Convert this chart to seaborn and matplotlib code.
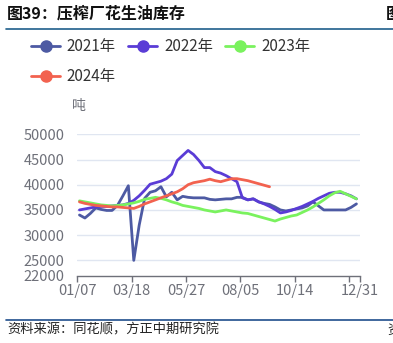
import numpy as np
import pandas as pd
import matplotlib
matplotlib.use("Agg")
import matplotlib.pyplot as plt
from matplotlib.lines import Line2D
import seaborn as sns

# ---------------- data ----------------
years = ["2021年", "2022年", "2023年", "2024年"]
colors = ["#4D5AA3", "#5A3CD6", "#7AF25E", "#F2624F"]

v2021 = [34000, 33400, 34300, 35400, 35100, 34900, 34900, 35900, 37800, 39800,
         25000, 32000, 37300, 38500, 38800, 39600, 37600, 38500, 37000, 37700,
         37500, 37400, 37400, 37400, 37100, 37000, 37100, 37200, 37200, 37500,
         37500, 37000, 37200, 36600, 36300, 36100, 35600, 35000, 34800, 35000,
         35200, 35400, 35800, 36600, 35800, 35000, 35000, 35000, 35000, 35000,
         35500, 36200]
v2022 = [35000, 35200, 35400, 35600, 35700, 35700, 35800, 35900, 36000, 36300,
         36900, 37800, 38900, 40100, 40400, 40700, 41200, 42100, 44800, 45800,
         46800, 46000, 44800, 43400, 43400, 42600, 42300, 41800, 41200, 40600,
         37400, 37000, 37200, 36600, 36200, 35700, 35100, 34400, 34600, 34900,
         35300, 35700, 36200, 36700, 37300, 37800, 38300, 38500, 38500, 38200,
         37800, 37200]
v2023 = [36800, 36600, 36400, 36200, 36000, 35900, 35800, 35900, 36000, 36200,
         36400, 36700, 37100, 37300, 37500, 37300, 37000, 36600, 36300, 35900,
         35700, 35500, 35300, 35000, 34800, 34600, 34800, 35000, 34800, 34600,
         34400, 34300, 34000, 33700, 33400, 33100, 32800, 33200, 33500, 33800,
         34000, 34500, 35000, 35600, 36300, 37000, 37800, 38400, 38700, 38200,
         37700, 37200]
v2024 = [36600, 36300, 36100, 35900, 35800, 35700, 35600, 35600, 35500, 35400,
         35300, 35700, 36200, 36600, 37000, 37400, 37800, 38200, 38600, 39200,
         40000, 40400, 40600, 40800, 41100, 40800, 40600, 40900, 41200, 41200,
         41000, 40800, 40500, 40200, 39900, 39600]

tick_labels = ["01/07", "03/18", "05/27", "08/05", "10/14", "", "12/31"]
y_ticks = [22000, 25000, 30000, 35000, 40000, 45000, 50000]

series = [v2021, v2022, v2023, v2024]
frames = []
for name, vals in zip(years, series):
    frames.append(pd.DataFrame({"week": np.arange(len(vals)), "value": vals, "year": name}))
df = pd.concat(frames, ignore_index=True)

# ---------------- figure ----------------
sns.set_theme(style="white")
plt.rcParams["font.family"] = ["Noto Sans CJK SC", "DejaVu Sans"]

W, H = 393, 343
fig = plt.figure(figsize=(W / 100, H / 100), dpi=100)
fig.patch.set_facecolor("white")

ax = fig.add_axes([77.3 / W, 1 - 275.5 / H, (359.7 - 77.3) / W, (275.5 - 134.3) / H])
ax.set_facecolor("white")

sns.lineplot(data=df, x="week", y="value", hue="year", hue_order=years,
             palette=colors, linewidth=2.0, legend=False, ax=ax, sort=False)

ax.set_xlim(-0.4, 51.6)
ax.set_ylim(22000, 50000)

# grid lines
for yv in y_ticks[1:]:
    ax.axhline(yv, color="#E0E6F1", linewidth=1.0, zorder=0)

ax.set_yticks(y_ticks)
ax.set_yticklabels([str(v) for v in y_ticks], fontsize=10.5, color="#6E7079")
ax.tick_params(axis="y", length=0, pad=9)

xt = [-0.4, 9.6, 19.6, 29.6, 39.6, 49.6, 51.6]
ax.set_xticks(xt)
ax.set_xticklabels(tick_labels, fontsize=10.5, color="#6E7079")
ax.tick_params(axis="x", length=4, width=1, color="#6E7079", pad=2, direction="out")
ax.tick_params(axis="x", bottom=True)

for s in ["top", "right", "left"]:
    ax.spines[s].set_visible(False)
ax.spines["bottom"].set_color("#6E7079")
ax.spines["bottom"].set_linewidth(1.0)
ax.set_xlabel("")
ax.set_ylabel("")

# unit label
fig.text(79 / W, 1 - 106 / H, "吨", fontsize=10, color="#6E7079", ha="center", va="center")

# legend (row-wise order: 2021 2022 2023 / 2024)
handles = {y: Line2D([0], [0], color=c, linewidth=2.0, marker="o", markersize=8,
                     markerfacecolor=c, markeredgecolor=c) for y, c in zip(years, colors)}
order = [years[0], years[3], years[1], years[2]]
fig.legend([handles[y] for y in order], order, loc="upper left",
           bbox_to_anchor=(31 / W, 1 - 38 / H),
           ncol=3, frameon=False, fontsize=11, handlelength=1.9, handletextpad=0.45,
           columnspacing=0.8, labelspacing=0.85, borderpad=0, borderaxespad=0,
           labelcolor="#333333")

# title & decorations
fig.text(7 / W, 1 - 14 / H, "图39：压榨厂花生油库存", fontsize=11.5, fontweight="semibold",
         color="#111111", ha="left", va="center")
fig.text(386 / W, 1 - 14 / H, "图", fontsize=11.5, fontweight="semibold",
         color="#111111", ha="left", va="center")
fig.add_artist(Line2D([6 / W, 1.0], [1 - 29 / H, 1 - 29 / H], color="#1F5F8B", linewidth=1.2))
fig.add_artist(Line2D([6 / W, 1.0], [1 - 320 / H, 1 - 320 / H], color="#1F4E8C", linewidth=1.2))
fig.text(7 / W, 1 - 330 / H, "资料来源：同花顺，方正中期研究院", fontsize=9.5, style="italic",
         color="#222222", ha="left", va="center")
fig.text(387 / W, 1 - 330 / H, "资", fontsize=9.5, color="#222222", ha="left", va="center")

fig.savefig("out.png", dpi=100, facecolor="white")
